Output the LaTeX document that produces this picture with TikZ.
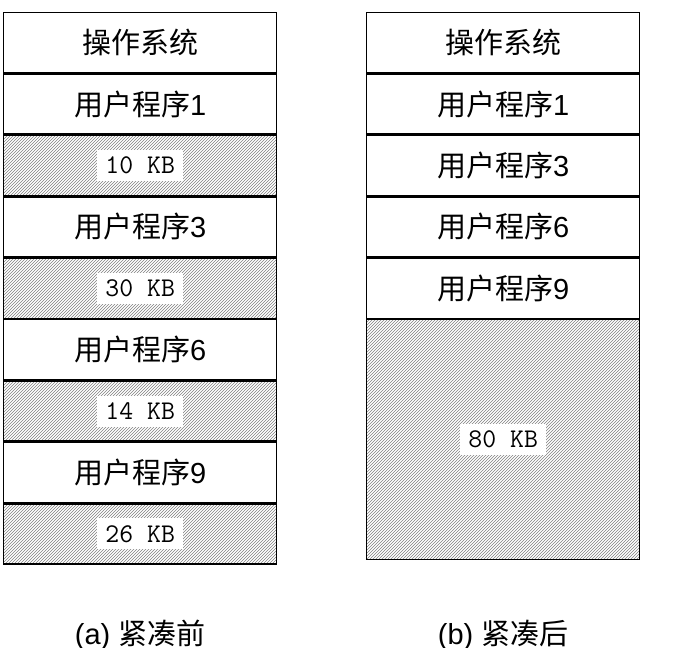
\documentclass[tikz,border=0pt]{standalone}
\usepackage{fontspec}
\setmainfont{Liberation Sans}
\newfontfamily\cjk{Noto Sans CJK SC}
\usetikzlibrary{patterns}
\begin{document}
\begin{tikzpicture}[x=1pt, y=-1pt,
    blockbox/.style={draw, line width=1.4pt, minimum width=273pt, minimum height=60pt, font=\fontsize{29}{32}\selectfont, inner sep=0pt},
    holebox/.style={blockbox, pattern=north east lines, pattern color=gray},
    sizelabel/.style={fill=white, font=\ttfamily\fontsize{27}{30}\selectfont, inner xsep=8pt, inner ysep=7pt},
    caption/.style={font=\fontsize{29}{32}\selectfont}]
    \useasboundingbox (0,0) rectangle (684,647);
    % before compaction
    \node [blockbox, anchor=north west] (l1) at (3,12) {\cjk 操作系统};
    \node [blockbox, anchor=north] (l2) at (l1.south) {\cjk 用户程序\rmfamily 1};
    \node [holebox, anchor=north] (l3) at (l2.south) {};
    \node [sizelabel] at (l3) {10 KB};
    \node [blockbox, anchor=north] (l4) at (l3.south) {\cjk 用户程序\rmfamily 3};
    \node [holebox, anchor=north] (l5) at (l4.south) {};
    \node [sizelabel] at (l5) {30 KB};
    \node [blockbox, anchor=north] (l6) at (l5.south) {\cjk 用户程序\rmfamily 6};
    \node [holebox, anchor=north] (l7) at (l6.south) {};
    \node [sizelabel] at (l7) {14 KB};
    \node [blockbox, anchor=north] (l8) at (l7.south) {\cjk 用户程序\rmfamily 9};
    \node [holebox, anchor=north] (l9) at (l8.south) {};
    \node [sizelabel] at (l9) {26 KB};
    % after compaction
    \node [blockbox, anchor=north west] (r1) at (366,12) {\cjk 操作系统};
    \node [blockbox, anchor=north] (r2) at (r1.south) {\cjk 用户程序\rmfamily 1};
    \node [blockbox, anchor=north] (r3) at (r2.south) {\cjk 用户程序\rmfamily 3};
    \node [blockbox, anchor=north] (r4) at (r3.south) {\cjk 用户程序\rmfamily 6};
    \node [blockbox, anchor=north] (r5) at (r4.south) {\cjk 用户程序\rmfamily 9};
    \node [holebox, anchor=north, minimum height=240pt] (r6) at (r5.south) {};
    \node [sizelabel] at (r6) {80 KB};
    % captions
    \node [caption] (capa) at (l9.south |- 0,635) {(a) {\cjk 紧凑前}};
    \node [caption] (capb) at (r6.south |- 0,635) {(b) {\cjk 紧凑后}};
\end{tikzpicture}
\end{document}
